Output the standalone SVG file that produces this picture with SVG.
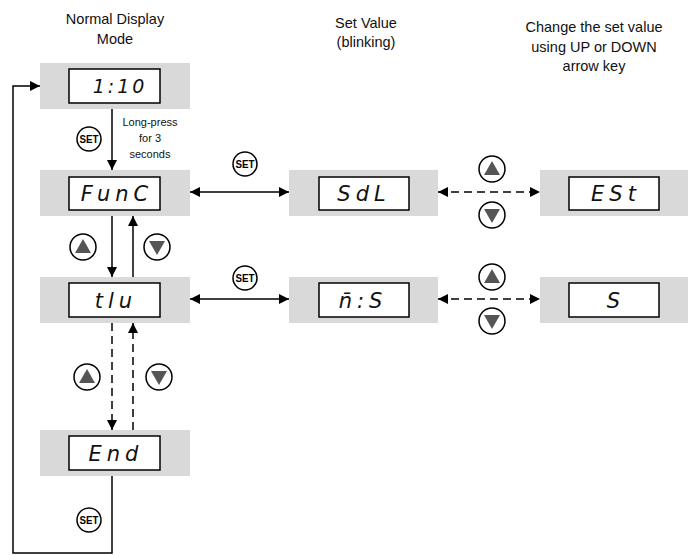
<svg xmlns="http://www.w3.org/2000/svg" width="693" height="555" viewBox="0 0 693 555">
<style>
.hdr{font-family:"Liberation Sans",Arial,sans-serif;font-size:14.5px;fill:#111;text-anchor:middle}
.small{font-family:"Liberation Sans",Arial,sans-serif;font-size:11px;fill:#111;text-anchor:middle}
.bg{fill:#d9d9d9}
.disp{fill:#fff;stroke:#000;stroke-width:1.5}
.seg{font-family:"DejaVu Sans","Liberation Sans",sans-serif;font-style:italic;font-weight:200;font-size:21px;fill:#111;text-anchor:middle;letter-spacing:5px}
.ln{fill:none;stroke:#000;stroke-width:1.5}
.dash{fill:none;stroke:#000;stroke-width:1.5;stroke-dasharray:8 5}
.btn{fill:#fff;stroke:#000;stroke-width:1.5}
.tri{fill:#555}
.set{font-family:"Liberation Sans",Arial,sans-serif;font-size:11px;font-weight:bold;fill:#000;text-anchor:middle}
</style>
<defs>
<marker id="ah" viewBox="0 0 10 10" refX="10" refY="5" markerWidth="10" markerHeight="10" markerUnits="userSpaceOnUse" orient="auto-start-reverse">
<path d="M0,0 L10,5 L0,10 z" fill="#000"/>
</marker>
<g id="up"><circle r="13" class="btn"/><path d="M-8,6 L8,6 L0,-8 z" class="tri"/></g>
<g id="down"><circle r="13" class="btn"/><path d="M-8,-6 L8,-6 L0,8 z" class="tri"/></g>
<g id="setb"><ellipse rx="12" ry="12" class="btn"/><text y="4" class="set" textLength="19" lengthAdjust="spacingAndGlyphs">SET</text></g>
</defs>

<g id="headers">
<text class="hdr" x="115" y="24">Normal Display</text>
<text class="hdr" x="115" y="44">Mode</text>
<text class="hdr" x="366" y="28">Set Value</text>
<text class="hdr" x="366" y="47">(blinking)</text>
<text class="hdr" x="594" y="32">Change the set value</text>
<text class="hdr" x="594" y="52">using UP or DOWN</text>
<text class="hdr" x="594" y="71">arrow key</text>
</g>

<g id="connectors">
<line class="ln" x1="112" y1="109" x2="112" y2="170" marker-end="url(#ah)"/>
<line class="ln" x1="112" y1="216" x2="112" y2="277" marker-end="url(#ah)"/>
<line class="ln" x1="133" y1="277" x2="133" y2="216" marker-end="url(#ah)"/>
<line class="dash" x1="112" y1="323" x2="112" y2="430" marker-end="url(#ah)"/>
<line class="dash" x1="133" y1="430" x2="133" y2="323" marker-end="url(#ah)"/>
<polyline class="ln" points="112,476 112,553 13,553 13,86 40,86" marker-end="url(#ah)"/>
<line class="ln" x1="190" y1="192" x2="289" y2="192" marker-start="url(#ah)" marker-end="url(#ah)"/>
<line class="ln" x1="190" y1="299" x2="289" y2="299" marker-start="url(#ah)" marker-end="url(#ah)"/>
<line class="dash" x1="438" y1="192" x2="540" y2="192" marker-start="url(#ah)" marker-end="url(#ah)"/>
<line class="dash" x1="438" y1="299" x2="540" y2="299" marker-start="url(#ah)" marker-end="url(#ah)"/>
</g>

<g id="labels">
<text class="small" x="150" y="126">Long-press</text>
<text class="small" x="150" y="142">for 3</text>
<text class="small" x="150" y="158">seconds</text>
<use href="#setb" x="89" y="139"/>
<use href="#up" x="83" y="247"/>
<use href="#down" x="157" y="247"/>
<use href="#up" x="87" y="377"/>
<use href="#down" x="159" y="377"/>
<use href="#setb" x="89" y="520"/>
<use href="#setb" x="245" y="164"/>
<use href="#setb" x="245" y="278"/>
<use href="#up" x="492" y="169"/>
<use href="#down" x="492" y="215"/>
<use href="#up" x="492" y="277"/>
<use href="#down" x="492" y="321"/>
</g>

<g id="n-normal">
<rect class="bg" x="40" y="63" width="150" height="46"/>
<rect class="disp" x="69" y="69" width="91" height="34"/>
<text class="seg" x="120" y="93" style="font-size:19px;letter-spacing:3px">1:10</text>
</g>
<g id="n-func">
<rect class="bg" x="40" y="170" width="150" height="46"/>
<rect class="disp" x="69" y="177" width="91" height="33"/>
<text class="seg" x="117" y="201">FunC</text>
</g>
<g id="n-tlu">
<rect class="bg" x="40" y="277" width="150" height="46"/>
<rect class="disp" x="69" y="283" width="91" height="34"/>
<text class="seg" x="116" y="308">tlu</text>
</g>
<g id="n-end">
<rect class="bg" x="40" y="430" width="150" height="46"/>
<rect class="disp" x="69" y="436" width="91" height="34"/>
<text class="seg" x="116" y="461">End</text>
</g>
<g id="n-sdl">
<rect class="bg" x="289" y="170" width="149" height="46"/>
<rect class="disp" x="319" y="177" width="90" height="33"/>
<text class="seg" x="364" y="201">SdL</text>
</g>
<g id="n-est">
<rect class="bg" x="540" y="170" width="148" height="46"/>
<rect class="disp" x="569" y="177" width="90" height="33"/>
<text class="seg" x="616" y="201">ESt</text>
</g>
<g id="n-ms">
<rect class="bg" x="289" y="277" width="149" height="46"/>
<rect class="disp" x="319" y="283" width="90" height="34"/>
<text class="seg" x="363" y="308">n̄:S</text>
</g>
<g id="n-s">
<rect class="bg" x="540" y="277" width="148" height="46"/>
<rect class="disp" x="569" y="283" width="90" height="34"/>
<text class="seg" x="616" y="308">S</text>
</g>
</svg>
